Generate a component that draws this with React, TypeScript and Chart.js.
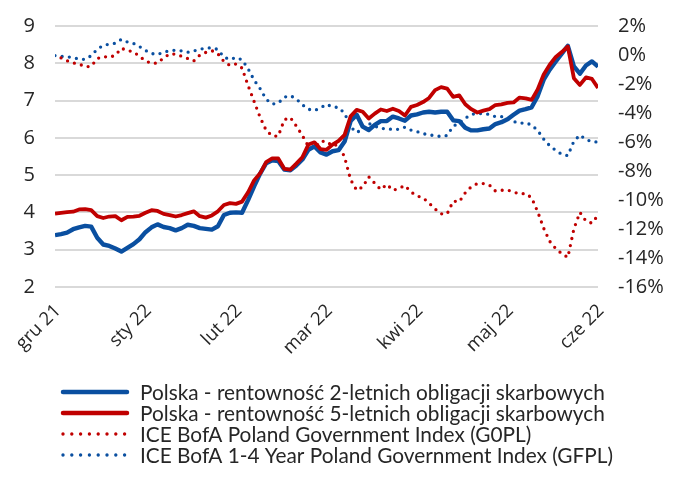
import React, { useEffect, useRef } from 'react';
import { Chart, registerables } from 'chart.js';

Chart.register(...registerables);

// x axis: one tick label per month, 15 samples per month
const monthLabels = ['gru 21', 'sty 22', 'lut 22', 'mar 22', 'kwi 22', 'maj 22', 'cze 22'];
const pointsPerMonth = 15;

// left axis ticks (%), right axis ticks (%)
const leftTicks = [2, 3, 4, 5, 6, 7, 8, 9];
const rightTicks = [-16, -14, -12, -10, -8, -6, -4, -2, 0, 2];

const seriesNames = [
  'Polska - rentowność 2-letnich obligacji skarbowych',
  'Polska - rentowność 5-letnich obligacji skarbowych',
  'ICE BofA Poland Government Index (G0PL)',
  'ICE BofA 1-4 Year Poland Government Index (GFPL)',
];

const yield2y = [
  3.39, 3.42, 3.46, 3.55, 3.60, 3.64, 3.62, 3.32, 3.14, 3.10,
  3.03, 2.95, 3.05, 3.15, 3.28, 3.47, 3.60, 3.68, 3.61, 3.58,
  3.52, 3.58, 3.67, 3.64, 3.58, 3.56, 3.54, 3.63, 3.93, 3.99,
  4.00, 3.99, 4.33, 4.70, 5.04, 5.32, 5.40, 5.38, 5.15, 5.13,
  5.26, 5.42, 5.68, 5.77, 5.61, 5.55, 5.64, 5.67, 5.90, 6.45,
  6.62, 6.30, 6.21, 6.35, 6.45, 6.45, 6.57, 6.52, 6.46, 6.60,
  6.63, 6.68, 6.70, 6.68, 6.70, 6.70, 6.47, 6.45, 6.27, 6.20,
  6.20, 6.23, 6.25, 6.37, 6.42, 6.50, 6.62, 6.73, 6.77, 6.82,
  7.12, 7.56, 7.83, 8.05, 8.26, 8.47, 7.92, 7.72, 7.94, 8.05,
  7.91,
];

const yield5y = [
  3.97, 3.99, 4.01, 4.02, 4.08, 4.09, 4.06, 3.90, 3.85, 3.89,
  3.90, 3.79, 3.88, 3.89, 3.91, 3.99, 4.06, 4.04, 3.96, 3.93,
  3.89, 3.93, 3.98, 4.03, 3.90, 3.86, 3.92, 4.03, 4.20, 4.25,
  4.23, 4.29, 4.54, 4.86, 5.05, 5.35, 5.45, 5.45, 5.17, 5.15,
  5.31, 5.48, 5.82, 5.88, 5.70, 5.68, 5.82, 5.92, 6.08, 6.58,
  6.75, 6.70, 6.52, 6.65, 6.76, 6.72, 6.78, 6.72, 6.60, 6.83,
  6.88, 6.96, 7.07, 7.28, 7.36, 7.32, 7.10, 7.14, 6.90, 6.77,
  6.68, 6.73, 6.77, 6.88, 6.90, 6.94, 6.95, 7.08, 7.06, 7.02,
  7.30, 7.70, 7.96, 8.17, 8.30, 8.45, 7.60, 7.42, 7.62, 7.58,
  7.34,
];

const g0pl = [
  null, -0.20, -0.40, -0.55, -0.62, -0.81, -0.78, -0.25, -0.10, -0.16,
  -0.02, 0.47, 0.30, 0.23, -0.09, -0.40, -0.58, -0.55, -0.20, 0.08,
  0.06, -0.09, -0.24, -0.41, -0.01, 0.18, 0.30, 0.08, -0.45, -0.72,
  -0.62, -0.90, -2.10, -3.20, -4.30, -5.20, -5.58, -5.60, -4.47, -4.30,
  -4.90, -5.55, -6.30, -6.45, -5.95, -5.95, -6.28, -6.15, -7.05, -8.60,
  -9.33, -9.10, -8.40, -8.85, -9.28, -8.92, -9.33, -9.20, -9.00, -9.45,
  -9.72, -9.85, -10.22, -10.62, -10.95, -10.95, -10.08, -10.12, -9.50, -9.08,
  -8.87, -8.87, -8.97, -9.38, -9.33, -9.31, -9.45, -9.58, -9.55, -9.85,
  -10.80, -11.95, -12.85, -13.35, -13.70, -13.96, -12.00, -10.85, -11.45, -11.60,
  -11.05,
];

const gfpl = [
  -0.04, -0.09, -0.13, -0.17, -0.29, -0.30, -0.05, 0.40, 0.66, 0.75,
  0.81, 1.08, 0.90, 0.80, 0.58, 0.31, 0.10, 0.04, 0.19, 0.30,
  0.33, 0.28, 0.19, 0.28, 0.40, 0.47, 0.50, 0.38, -0.15, -0.31,
  -0.17, -0.33, -0.94, -1.73, -2.32, -3.05, -3.38, -3.32, -2.91, -2.80,
  -3.03, -3.43, -3.74, -3.83, -3.65, -3.40, -3.58, -3.62, -4.02, -4.95,
  -5.35, -5.10, -4.72, -4.90, -5.08, -5.06, -5.15, -5.12, -4.98, -5.18,
  -5.28, -5.42, -5.52, -5.55, -5.63, -5.55, -4.90, -4.70, -4.36, -4.10,
  -4.03, -4.04, -4.10, -4.25, -4.25, -4.37, -4.58, -4.71, -4.67, -4.83,
  -5.20, -5.80, -6.26, -6.58, -6.85, -6.94, -5.95, -5.52, -5.82, -5.98,
  -6.00,
];

const BLUE = '#0A4FA0';
const RED = '#C00000';
const TEXT = '#262626';
const GRID = '#D9D9D9';
const TICK_FONT = { family: '"Open Sans", "DejaVu Sans", sans-serif', size: 20 };
const X_TICK_FONT = { family: '"Open Sans", "DejaVu Sans", sans-serif', size: 18.5 };

const toPoints = (arr: (number | null)[]) => arr.map((y, i) => ({ x: i, y }));

const customLegend = {
  id: 'customLegend',
  afterDraw(chart: any, _args: any, opts: any) {
    const ctx = chart.ctx;
    ctx.save();
    ctx.font = `${opts.fontSize}px ${opts.fontFamily}`;
    ctx.textBaseline = 'middle';
    ctx.textAlign = 'left';
    chart.data.datasets.forEach((ds: any, i: number) => {
      const y = opts.top + i * opts.rowHeight;
      ctx.beginPath();
      ctx.strokeStyle = ds.borderColor;
      ctx.lineWidth = ds.legendWidth;
      ctx.lineCap = 'round';
      ctx.setLineDash(ds.legendDash || []);
      ctx.moveTo(opts.x, y);
      ctx.lineTo(opts.x + opts.lineLength, y);
      ctx.stroke();
      ctx.setLineDash([]);
      ctx.fillStyle = opts.color;
      ctx.fillText(ds.label, opts.textX, y + 1);
    });
    ctx.restore();
  },
};

const noVerticalLabelPadding = (scale: any) => {
  scale.paddingTop = 0;
  scale.paddingBottom = 0;
};

export default function App() {
  const canvasRef = useRef<HTMLCanvasElement | null>(null);

  useEffect(() => {
    if (!canvasRef.current) return;
    const chart = new Chart(canvasRef.current, {
      type: 'line',
      data: {
        datasets: [
          {
            label: seriesNames[0],
            data: toPoints(yield2y),
            yAxisID: 'y',
            borderColor: BLUE,
            backgroundColor: BLUE,
            borderWidth: 4.4,
            pointRadius: 0,
            tension: 0,
            borderJoinStyle: 'round',
            order: 2,
            legendWidth: 4.5,
          } as any,
          {
            label: seriesNames[1],
            data: toPoints(yield5y),
            yAxisID: 'y',
            borderColor: RED,
            backgroundColor: RED,
            borderWidth: 3.8,
            pointRadius: 0,
            tension: 0,
            borderJoinStyle: 'round',
            order: 1,
            legendWidth: 4.5,
          } as any,
          {
            label: seriesNames[2],
            data: toPoints(g0pl),
            yAxisID: 'y1',
            borderColor: RED,
            backgroundColor: RED,
            borderWidth: 3.3,
            borderDash: [0, 7.2],
            borderCapStyle: 'round',
            pointRadius: 0,
            tension: 0,
            order: 3,
            legendWidth: 3.4,
            legendDash: [0, 8.8],
          } as any,
          {
            label: seriesNames[3],
            data: toPoints(gfpl),
            yAxisID: 'y1',
            borderColor: BLUE,
            backgroundColor: BLUE,
            borderWidth: 3.3,
            borderDash: [0, 7.2],
            borderCapStyle: 'round',
            pointRadius: 0,
            tension: 0,
            order: 4,
            legendWidth: 3.4,
            legendDash: [0, 8.8],
          } as any,
        ],
      },
      options: {
        animation: false,
        responsive: true,
        maintainAspectRatio: false,
        layout: { padding: { left: 23, right: 16, top: 26, bottom: 119 } },
        plugins: {
          legend: { display: false },
          tooltip: { enabled: false },
          customLegend: {
            x: 63,
            top: 392,
            rowHeight: 21,
            lineLength: 64,
            textX: 140,
            fontSize: 20.8,
            fontFamily: 'Lato, "Open Sans", sans-serif',
            color: TEXT,
          },
        } as any,
        scales: {
          x: {
            type: 'linear',
            min: 0,
            max: (monthLabels.length - 1) * pointsPerMonth,
            grid: { display: false, drawTicks: false },
            border: { display: false },
            afterBuildTicks: (scale: any) => {
              scale.ticks = monthLabels.map((_, k) => ({ value: k * pointsPerMonth }));
            },
            afterFit: (scale: any) => {
              scale.height = 80;
            },
            ticks: {
              autoSkip: false,
              maxRotation: 45,
              minRotation: 45,
              padding: 13,
              labelOffset: 3,
              color: TEXT,
              font: X_TICK_FONT,
              callback: (v: any) => monthLabels[Math.round(Number(v) / pointsPerMonth)] ?? '',
            },
          },
          y: {
            position: 'left',
            min: leftTicks[0],
            max: leftTicks[leftTicks.length - 1],
            afterBuildTicks: (scale: any) => {
              scale.ticks = leftTicks.map((v) => ({ value: v }));
            },
            afterFit: (scale: any) => {
              scale.width = 32;
              noVerticalLabelPadding(scale);
            },
            grid: { color: GRID, lineWidth: 2, drawTicks: false },
            border: { display: false },
            ticks: { padding: 20, color: TEXT, font: TICK_FONT },
          },
          y1: {
            position: 'right',
            min: rightTicks[0],
            max: rightTicks[rightTicks.length - 1],
            afterBuildTicks: (scale: any) => {
              scale.ticks = rightTicks.map((v) => ({ value: v }));
            },
            afterFit: (scale: any) => {
              scale.width = 66;
              noVerticalLabelPadding(scale);
            },
            grid: { drawOnChartArea: false, drawTicks: false },
            border: { display: false },
            ticks: {
              padding: 20,
              color: TEXT,
              font: TICK_FONT,
              callback: (v: any) => `${v}%`,
            },
          },
        },
      } as any,
      plugins: [customLegend],
    });
    return () => chart.destroy();
  }, []);

  return (
    <div style={{ position: 'absolute', left: 0, top: 0, width: 680, height: 486, background: '#fff' }}>
      <canvas ref={canvasRef} />
    </div>
  );
}
